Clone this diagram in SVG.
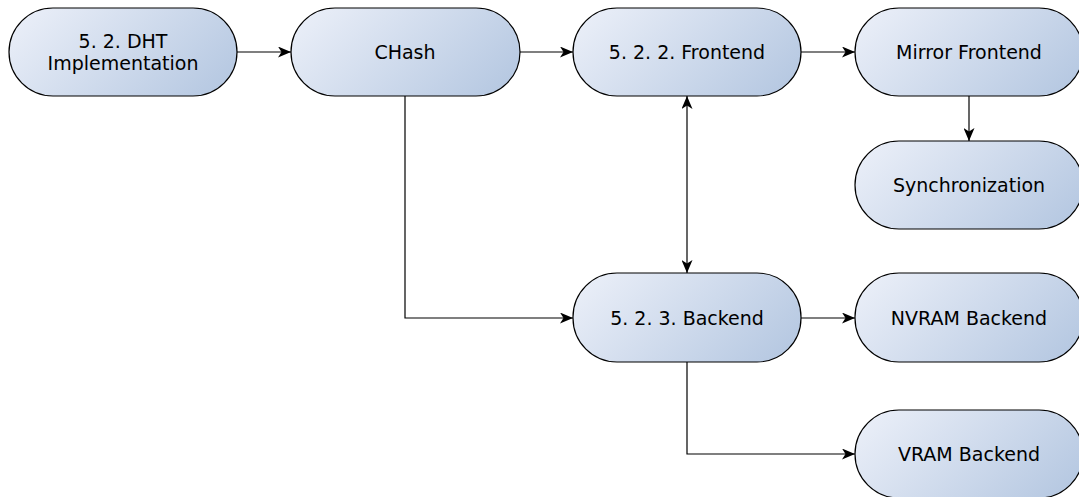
<svg xmlns="http://www.w3.org/2000/svg" width="1079" height="497" viewBox="0 0 1079 497">
<defs>
<linearGradient id="g" x1="0" y1="0.3" x2="1" y2="0.7">
<stop offset="0" stop-color="#e8edf7"/>
<stop offset="1" stop-color="#b7c9e2"/>
</linearGradient>
<marker id="ah" viewBox="0 0 13 11" refX="13" refY="5.5" markerWidth="13" markerHeight="11" markerUnits="userSpaceOnUse" orient="auto-start-reverse">
<path d="M0,0 L13,5.5 L0,11 L3.5,5.5 Z" fill="#000"/>
</marker>
</defs>
<style>
.n rect{fill:url(#g);stroke:#000;stroke-width:1.2}
.n text{font-family:"DejaVu Sans",sans-serif;font-size:19px;fill:#000;text-anchor:middle}
.c path{fill:none;stroke:#000;stroke-width:1.2}
</style>
<rect width="1079" height="497" fill="#fff"/>
<g class="c" id="connectors">
<path d="M237,52 H291" marker-end="url(#ah)"/>
<path d="M520,52 H573" marker-end="url(#ah)"/>
<path d="M801,52 H855" marker-end="url(#ah)"/>
<path d="M969,96 V141" marker-end="url(#ah)"/>
<path d="M687,96 V273" marker-start="url(#ah)" marker-end="url(#ah)"/>
<path d="M405,96 V318 H573" marker-end="url(#ah)"/>
<path d="M801,318 H855" marker-end="url(#ah)"/>
<path d="M687,362 V454 H855" marker-end="url(#ah)"/>
</g>
<g class="n" id="dht"><rect x="9" y="8" width="228" height="88" rx="44"/><text x="123" y="48">5. 2. DHT</text><text x="123" y="70">Implementation</text></g>
<g class="n" id="chash"><rect x="291" y="8" width="229" height="88" rx="44"/><text x="405" y="59">CHash</text></g>
<g class="n" id="frontend"><rect x="573" y="8" width="228" height="88" rx="44"/><text x="687" y="59">5. 2. 2. Frontend</text></g>
<g class="n" id="mirror"><rect x="855" y="8" width="228" height="88" rx="44"/><text x="969" y="59">Mirror Frontend</text></g>
<g class="n" id="sync"><rect x="855" y="141" width="228" height="88" rx="44"/><text x="969" y="192">Synchronization</text></g>
<g class="n" id="backend"><rect x="573" y="273" width="228" height="89" rx="44"/><text x="687" y="325">5. 2. 3. Backend</text></g>
<g class="n" id="nvram"><rect x="855" y="273" width="228" height="89" rx="44"/><text x="969" y="325">NVRAM Backend</text></g>
<g class="n" id="vram"><rect x="855" y="410" width="228" height="88" rx="44"/><text x="969" y="461">VRAM Backend</text></g>
</svg>
